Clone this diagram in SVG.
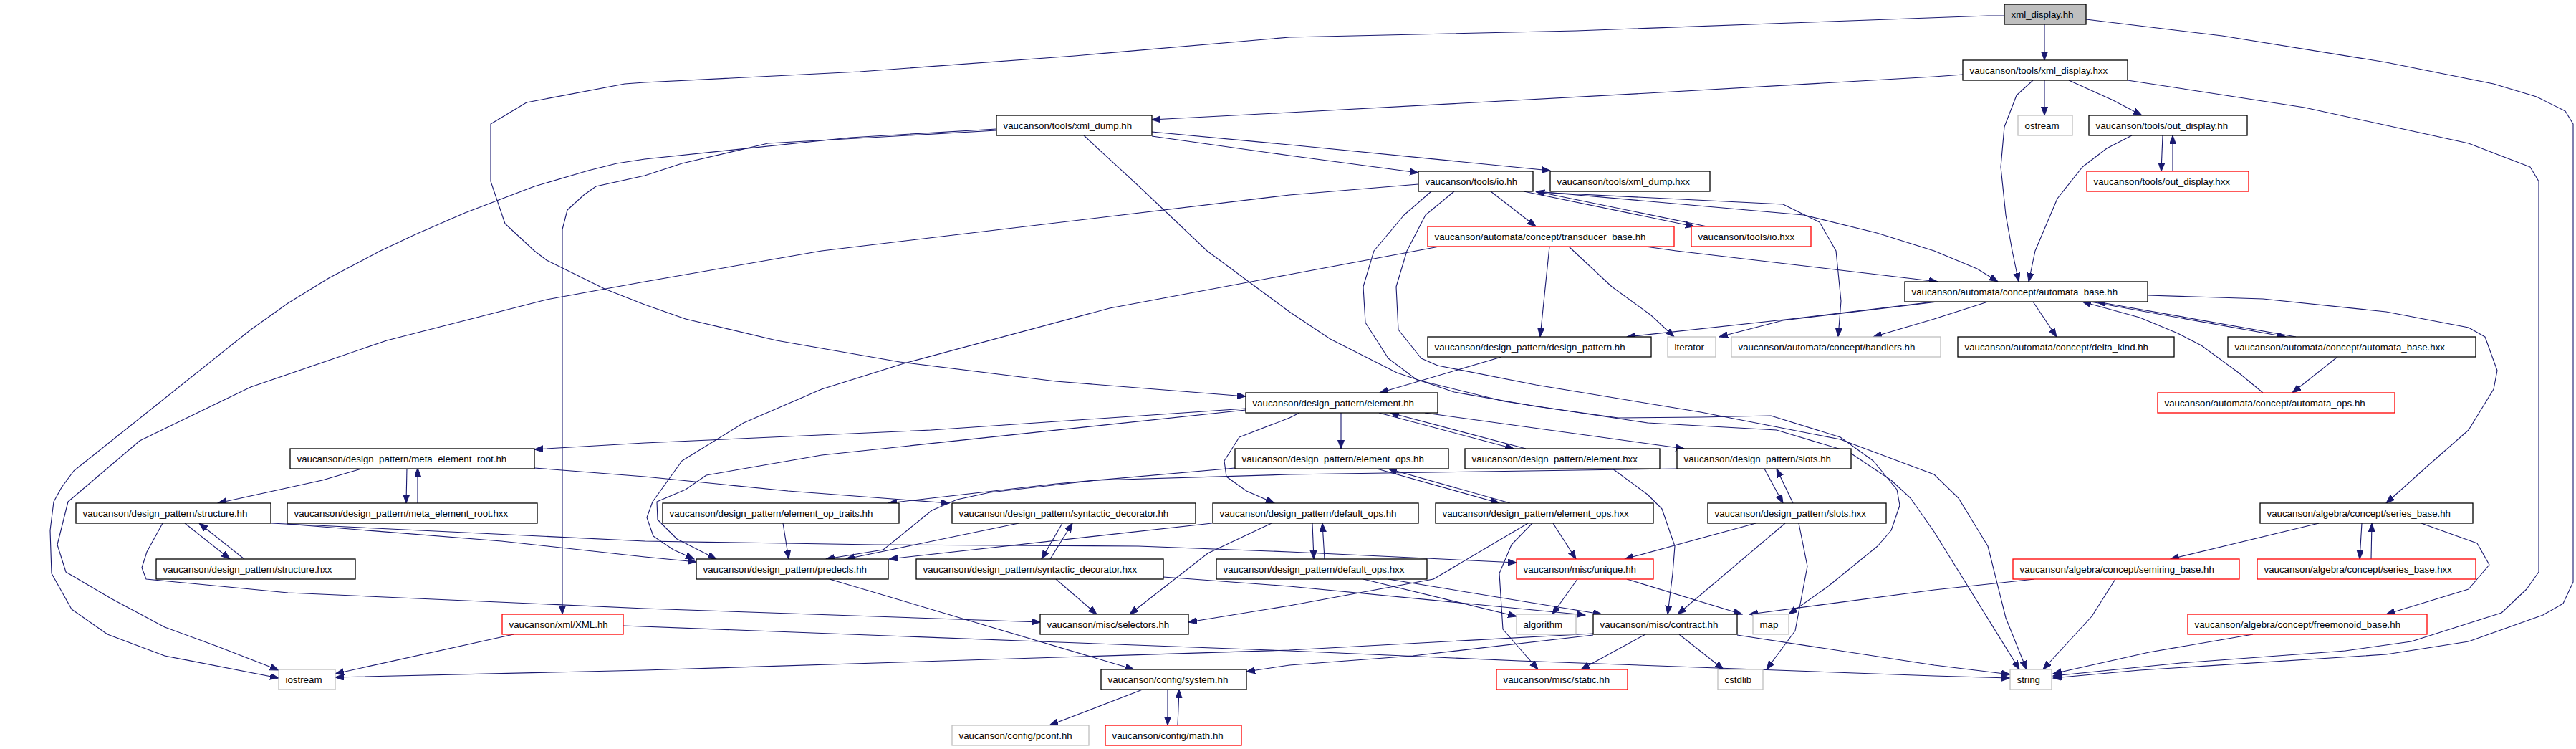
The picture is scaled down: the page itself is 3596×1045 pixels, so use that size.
<svg xmlns="http://www.w3.org/2000/svg" width="3596" height="1045" viewBox="0 0 3596 1045">
<style>
rect{stroke-width:1.3}
.n rect{fill:#fff;stroke:#000}
.r rect{fill:#fff;stroke:#ff0000}
.g rect{fill:#fff;stroke:#bfbfbf}
.root rect{fill:#bfbfbf;stroke:#000}
text{font-family:"Liberation Sans",Arial,Helvetica,sans-serif;font-size:13.3px;fill:#000}
#edges path{fill:none;stroke:#191970;stroke-width:1.1;stroke-linejoin:round;marker-end:url(#ah)}
</style>
<defs>
<marker id="ah" markerUnits="userSpaceOnUse" markerWidth="13" markerHeight="10" refX="12" refY="4.5" orient="auto">
<path d="M0,0 L12,4.5 L0,9 z" fill="#191970" stroke="#191970" stroke-width="1"/>
</marker>
</defs>
<rect width="3596" height="1045" fill="#fff"/>
<g id="edges">
<path d="M2854,34 L2854,84"/>
<path d="M2798,22 L2775,22 L2500,32 L2200,43 L1800,52 L1500,78 L1200,100 L900,115 L872,117 L735,143 L685,173 L685,253 L705,312 L746,350 L763,363 L844,403 L900,425 L957,445 L1084,475 L1256,505 L1474,532 L1739,553"/>
<path d="M2912,27 L3102,50 L3331,87 L3481,117 L3541,135 L3581,155 L3592,173 L3592,812 L3578,842 L3550,858 L3446,895 L3331,913 L2987,935 L2866,946"/>
<path d="M2740,104 L2700,107 L2300,130 L1800,157 L1608,167"/>
<path d="M2854,112 L2854,161"/>
<path d="M2888,112 L2950,140 L2990,161"/>
<path d="M2838,112 L2815,133 L2798,177 L2793,233 L2800,300 L2809,350 L2818,393"/>
<path d="M2970,112 L3217,150 L3446,200 L3532,233 L3544,253 L3544,798 L3527,822 L3492,855 L3366,895 L3274,908 L3044,925 L2866,943"/>
<path d="M3019,189 L3017,239"/>
<path d="M3033,239 L3033,189"/>
<path d="M2976,189 L2941,207 L2907,233 L2872,277 L2841,350 L2832,393"/>
<path d="M1608,190 L1800,217 L1980,241"/>
<path d="M1608,184 L1800,202 L2164,238"/>
<path d="M1391,180 L1187,192 L900,222 L861,228 L821,238 L746,260 L649,297 L580,327 L531,350 L459,388 L402,423 L350,460 L103,657 L86,680 L75,700 L70,740 L72,800 L100,850 L150,885 L230,915 L389,946"/>
<path d="M1391,182 L1072,200 L952,228 L900,245 L832,260 L815,272 L792,293 L785,320 L785,857"/>
<path d="M1513,189 L1590,260 L1685,350 L1800,435 L1857,473 L1950,520 L2030,547 L2144,567 L2259,583 L2374,582 L2472,580 L2569,610 L2615,643 L2648,683 L2652,705 L2640,740 L2621,762 L2552,818 L2497,857"/>
<path d="M1998,267 L1960,300 L1918,350 L1903,400 L1906,450 L1938,500 L1978,530 L2100,560 L2300,590 L2480,600 L2580,630 L2640,670 L2667,695 L2700,742 L2819,934"/>
<path d="M2030,267 L1990,300 L1964,350 L1949,400 L1952,460 L1984,500 L2007,510 L2144,537 L2374,575 L2569,613 L2700,662 L2734,695 L2775,762 L2800,862 L2829,934"/>
<path d="M1980,257 L1800,272 L1147,350 L900,393 L763,418 L540,475 L350,540 L195,615 L95,700 L80,760 L92,798 L155,835 L230,875 L304,902 L389,935"/>
<path d="M2081,267 L2144,316"/>
<path d="M2127,267 L2365,316"/>
<path d="M2383,316 L2144,267"/>
<path d="M2156,268 L2518,300 L2620,325 L2700,350 L2760,375 L2789,393"/>
<path d="M2144,268 L2489,285 L2540,310 L2563,350 L2570,420 L2566,470"/>
<path d="M2009,344 L1800,383 L1549,430 L1262,507 L1147,543 L1038,590 L952,643 L911,700 L903,722 L912,748 L940,767 L969,780"/>
<path d="M2163,344 L2150,470"/>
<path d="M2190,344 L2250,400 L2305,440 L2337,470"/>
<path d="M2297,344 L2340,350 L2705,393"/>
<path d="M2700,421 L2500,445 L2271,470"/>
<path d="M2705,421 L2489,447 L2400,470"/>
<path d="M2775,421 L2700,445 L2615,470"/>
<path d="M2838,421 L2871,470"/>
<path d="M2918,421 L3191,470"/>
<path d="M3205,470 L2927,421"/>
<path d="M3159,548 L3125,520 L3073,482 L3040,465 L2987,443 L2907,421"/>
<path d="M3263,498 L3200,548"/>
<path d="M2998,412 L3159,417 L3331,435 L3446,457 L3469,470 L3486,517 L3481,543 L3446,600 L3389,650 L3331,702"/>
<path d="M2096,498 L1926,548"/>
<path d="M1739,570 L1300,600 L900,618 L746,627"/>
<path d="M1739,572 L1147,635 L986,663 L957,683 L917,700 L918,725 L945,752 L1000,780"/>
<path d="M1872,576 L1872,626"/>
<path d="M1925,576 L2113,626"/>
<path d="M2130,626 L1941,576"/>
<path d="M1989,576 L2351,626"/>
<path d="M1814,576 L1800,583 L1730,610 L1709,643 L1712,665 L1740,685 L1779,702"/>
<path d="M508,653 L450,670 L304,702"/>
<path d="M568,653 L567,702"/>
<path d="M583,702 L583,653"/>
<path d="M746,653 L900,665 L1100,685 L1325,702"/>
<path d="M1724,653 L1474,675 L1240,702"/>
<path d="M2341,654 L1800,662 L1531,670 L1382,687 L1336,697 L1301,712 L1233,767 L1153,780"/>
<path d="M1922,654 L2093,702"/>
<path d="M2108,702 L1938,654"/>
<path d="M2251,654 L2300,690 L2320,710 L2338,762 L2335,800 L2328,857"/>
<path d="M2463,654 L2489,702"/>
<path d="M2503,702 L2480,654"/>
<path d="M258,730 L321,780"/>
<path d="M341,780 L278,730"/>
<path d="M227,730 L205,770 L198,792 L204,808 L402,827 L900,849 L1452,868"/>
<path d="M378,730 L900,755 L1221,760 L1589,762 L1800,770 L2117,785"/>
<path d="M400,731 L700,755 L900,777 L972,784"/>
<path d="M1093,730 L1101,780"/>
<path d="M1422,730 L1181,780"/>
<path d="M1483,730 L1454,780"/>
<path d="M1466,780 L1497,730"/>
<path d="M1692,730 L1241,780"/>
<path d="M1775,730 L1686,772 L1577,857"/>
<path d="M1832,730 L1834,780"/>
<path d="M1849,780 L1846,730"/>
<path d="M2133,730 L2001,808 L1800,845 L1659,868"/>
<path d="M2139,730 L2110,760 L2093,800 L2098,878 L2147,934"/>
<path d="M2168,730 L2200,780"/>
<path d="M2451,730 L2268,780"/>
<path d="M2492,730 L2342,857"/>
<path d="M2511,730 L2523,790 L2506,880 L2466,934"/>
<path d="M1158,808 L1583,934"/>
<path d="M1474,808 L1531,857"/>
<path d="M1624,805 L1800,818 L2213,858"/>
<path d="M1903,808 L2117,860"/>
<path d="M1938,808 L2236,857"/>
<path d="M2202,808 L2167,857"/>
<path d="M2271,808 L2432,857"/>
<path d="M2840,808 L2700,823 L2442,857"/>
<path d="M2953,808 L2920,860 L2852,934"/>
<path d="M3237,730 L3030,780"/>
<path d="M3297,730 L3294,780"/>
<path d="M3310,780 L3311,730"/>
<path d="M3380,730 L3458,758 L3475,788 L3446,822 L3331,857"/>
<path d="M3145,885 L3000,910 L2866,940"/>
<path d="M2224,884 L1800,907 L900,935 L468,945"/>
<path d="M2224,886 L1972,915 L1800,928 L1740,937"/>
<path d="M2297,885 L2207,934"/>
<path d="M2344,885 L2406,934"/>
<path d="M2425,886 L2700,928 L2806,941"/>
<path d="M717,885 L468,940"/>
<path d="M870,873 L1451,895 L1800,908 L2121,922 L2397,932 L2700,943 L2806,946"/>
<path d="M1595,962 L1465,1012"/>
<path d="M1630,962 L1630,1012"/>
<path d="M1644,1012 L1646,962"/>
</g>
<g id="n0" class="root"><rect x="2798" y="6" width="114" height="28"/><text x="2807.5" y="24.5">xml_display.hh</text></g>
<g id="n1" class="n"><rect x="2740" y="84" width="230" height="28"/><text x="2749.5" y="102.5">vaucanson/tools/xml_display.hxx</text></g>
<g id="n2" class="n"><rect x="1391" y="161" width="217" height="28"/><text x="1400.5" y="179.5">vaucanson/tools/xml_dump.hh</text></g>
<g id="n3" class="g"><rect x="2817" y="161" width="76" height="28"/><text x="2826.5" y="179.5">ostream</text></g>
<g id="n4" class="n"><rect x="2916" y="161" width="221" height="28"/><text x="2925.5" y="179.5">vaucanson/tools/out_display.hh</text></g>
<g id="n5" class="n"><rect x="1980" y="239" width="160" height="28"/><text x="1989.5" y="257.5">vaucanson/tools/io.hh</text></g>
<g id="n6" class="n"><rect x="2164" y="239" width="223" height="28"/><text x="2173.5" y="257.5">vaucanson/tools/xml_dump.hxx</text></g>
<g id="n7" class="r"><rect x="2913" y="239" width="226" height="28"/><text x="2922.5" y="257.5">vaucanson/tools/out_display.hxx</text></g>
<g id="n8" class="r"><rect x="1993" y="316" width="344" height="28"/><text x="2002.5" y="334.5">vaucanson/automata/concept/transducer_base.hh</text></g>
<g id="n9" class="r"><rect x="2361" y="316" width="167" height="28"/><text x="2370.5" y="334.5">vaucanson/tools/io.hxx</text></g>
<g id="n10" class="n"><rect x="2659" y="393" width="339" height="28"/><text x="2668.5" y="411.5">vaucanson/automata/concept/automata_base.hh</text></g>
<g id="n11" class="n"><rect x="1993" y="470" width="312" height="28"/><text x="2002.5" y="488.5">vaucanson/design_pattern/design_pattern.hh</text></g>
<g id="n12" class="g"><rect x="2328" y="470" width="67" height="28"/><text x="2337.5" y="488.5">iterator</text></g>
<g id="n13" class="g"><rect x="2417" y="470" width="292" height="28"/><text x="2426.5" y="488.5">vaucanson/automata/concept/handlers.hh</text></g>
<g id="n14" class="n"><rect x="2733" y="470" width="302" height="28"/><text x="2742.5" y="488.5">vaucanson/automata/concept/delta_kind.hh</text></g>
<g id="n15" class="n"><rect x="3110" y="470" width="346" height="28"/><text x="3119.5" y="488.5">vaucanson/automata/concept/automata_base.hxx</text></g>
<g id="n16" class="n"><rect x="1739" y="548" width="268" height="28"/><text x="1748.5" y="566.5">vaucanson/design_pattern/element.hh</text></g>
<g id="n17" class="r"><rect x="3012" y="548" width="331" height="28"/><text x="3021.5" y="566.5">vaucanson/automata/concept/automata_ops.hh</text></g>
<g id="n18" class="n"><rect x="405" y="626" width="341" height="28"/><text x="414.5" y="644.5">vaucanson/design_pattern/meta_element_root.hh</text></g>
<g id="n19" class="n"><rect x="1724" y="626" width="298" height="28"/><text x="1733.5" y="644.5">vaucanson/design_pattern/element_ops.hh</text></g>
<g id="n20" class="n"><rect x="2045" y="626" width="272" height="28"/><text x="2054.5" y="644.5">vaucanson/design_pattern/element.hxx</text></g>
<g id="n21" class="n"><rect x="2341" y="626" width="243" height="28"/><text x="2350.5" y="644.5">vaucanson/design_pattern/slots.hh</text></g>
<g id="n22" class="n"><rect x="106" y="702" width="272" height="28"/><text x="115.5" y="720.5">vaucanson/design_pattern/structure.hh</text></g>
<g id="n23" class="n"><rect x="401" y="702" width="349" height="28"/><text x="410.5" y="720.5">vaucanson/design_pattern/meta_element_root.hxx</text></g>
<g id="n24" class="n"><rect x="925" y="702" width="330" height="28"/><text x="934.5" y="720.5">vaucanson/design_pattern/element_op_traits.hh</text></g>
<g id="n25" class="n"><rect x="1329" y="702" width="340" height="28"/><text x="1338.5" y="720.5">vaucanson/design_pattern/syntactic_decorator.hh</text></g>
<g id="n26" class="n"><rect x="1693" y="702" width="287" height="28"/><text x="1702.5" y="720.5">vaucanson/design_pattern/default_ops.hh</text></g>
<g id="n27" class="n"><rect x="2004" y="702" width="304" height="28"/><text x="2013.5" y="720.5">vaucanson/design_pattern/element_ops.hxx</text></g>
<g id="n28" class="n"><rect x="2384" y="702" width="249" height="28"/><text x="2393.5" y="720.5">vaucanson/design_pattern/slots.hxx</text></g>
<g id="n29" class="n"><rect x="3155" y="702" width="297" height="28"/><text x="3164.5" y="720.5">vaucanson/algebra/concept/series_base.hh</text></g>
<g id="n30" class="n"><rect x="218" y="780" width="278" height="28"/><text x="227.5" y="798.5">vaucanson/design_pattern/structure.hxx</text></g>
<g id="n31" class="n"><rect x="972" y="780" width="268" height="28"/><text x="981.5" y="798.5">vaucanson/design_pattern/predecls.hh</text></g>
<g id="n32" class="n"><rect x="1279" y="780" width="345" height="28"/><text x="1288.5" y="798.5">vaucanson/design_pattern/syntactic_decorator.hxx</text></g>
<g id="n33" class="n"><rect x="1698" y="780" width="294" height="28"/><text x="1707.5" y="798.5">vaucanson/design_pattern/default_ops.hxx</text></g>
<g id="n34" class="r"><rect x="2117" y="780" width="191" height="28"/><text x="2126.5" y="798.5">vaucanson/misc/unique.hh</text></g>
<g id="n35" class="r"><rect x="2810" y="780" width="316" height="28"/><text x="2819.5" y="798.5">vaucanson/algebra/concept/semiring_base.hh</text></g>
<g id="n36" class="r"><rect x="3151" y="780" width="305" height="28"/><text x="3160.5" y="798.5">vaucanson/algebra/concept/series_base.hxx</text></g>
<g id="n37" class="r"><rect x="701" y="857" width="169" height="28"/><text x="710.5" y="875.5">vaucanson/xml/XML.hh</text></g>
<g id="n38" class="n"><rect x="1452" y="857" width="207" height="28"/><text x="1461.5" y="875.5">vaucanson/misc/selectors.hh</text></g>
<g id="n39" class="g"><rect x="2117" y="857" width="83" height="28"/><text x="2126.5" y="875.5">algorithm</text></g>
<g id="n40" class="n"><rect x="2224" y="857" width="201" height="28"/><text x="2233.5" y="875.5">vaucanson/misc/contract.hh</text></g>
<g id="n41" class="g"><rect x="2447" y="857" width="50" height="28"/><text x="2456.5" y="875.5">map</text></g>
<g id="n42" class="r"><rect x="3054" y="857" width="334" height="28"/><text x="3063.5" y="875.5">vaucanson/algebra/concept/freemonoid_base.hh</text></g>
<g id="n43" class="g"><rect x="389" y="934" width="79" height="28"/><text x="398.5" y="952.5">iostream</text></g>
<g id="n44" class="n"><rect x="1537" y="934" width="203" height="28"/><text x="1546.5" y="952.5">vaucanson/config/system.hh</text></g>
<g id="n45" class="r"><rect x="2089" y="934" width="183" height="28"/><text x="2098.5" y="952.5">vaucanson/misc/static.hh</text></g>
<g id="n46" class="g"><rect x="2398" y="934" width="63" height="28"/><text x="2407.5" y="952.5">cstdlib</text></g>
<g id="n47" class="g"><rect x="2806" y="934" width="58" height="28"/><text x="2815.5" y="952.5">string</text></g>
<g id="n48" class="g"><rect x="1329" y="1012" width="191" height="28"/><text x="1338.5" y="1030.5">vaucanson/config/pconf.hh</text></g>
<g id="n49" class="r"><rect x="1543" y="1012" width="190" height="28"/><text x="1552.5" y="1030.5">vaucanson/config/math.hh</text></g>
</svg>
